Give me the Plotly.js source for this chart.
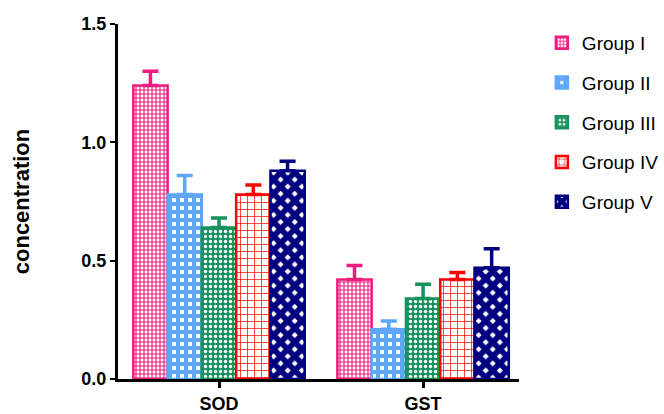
<!DOCTYPE html>
<html><head><meta charset="utf-8">
<script src="https://cdn.plot.ly/plotly-3.0.1.min.js"></script>
<style>body{margin:0;background:#fff}#chart{width:664px;height:414px}</style>
</head><body><div id="chart"></div>
<script>
const categories = ["SOD", "GST"];
const groupNames = ["Group I", "Group II", "Group III", "Group IV", "Group V"];
const groupI   = [1.24, 0.42];
const groupII  = [0.78, 0.21];
const groupIII = [0.64, 0.34];
const groupIV  = [0.78, 0.42];
const groupV   = [0.88, 0.47];
const errI   = [0.06, 0.06];
const errII  = [0.08, 0.035];
const errIII = [0.04, 0.06];
const errIV  = [0.04, 0.03];
const errV   = [0.04, 0.08];
const yTicks = [0, 0.5, 1.0, 1.5];

const values = [groupI, groupII, groupIII, groupIV, groupV];
const errs = [errI, errII, errIII, errIV, errV];
const colors = ["#EE1C7E", "#5EA6F7", "#17925E", "#FF0000", "#000080"];
const patterns = [
  {shape: "+", size: 4, solidity: 0.5, fgcolor: "#EE1C7E", bgcolor: "#ffffff"},
  {shape: "+", size: 8, solidity: 0.75, fgcolor: "#5EA6F7", bgcolor: "#ffffff"},
  {shape: ".", size: 5, solidity: 0.35, fgcolor: "#ffffff", bgcolor: "#17925E"},
  {shape: "+", size: 7, solidity: 0.2, fgcolor: "#FF0000", bgcolor: "#ffffff"},
  {shape: "x", size: 10, solidity: 0.82, fgcolor: "#000080", bgcolor: "#ffffff"}
];

const traces = groupNames.map((name, i) => ({
  type: "bar",
  name: name,
  legendgroup: "g" + i,
  x: categories,
  y: values[i],
  marker: {
    color: colors[i],
    pattern: patterns[i],
    line: {color: colors[i], width: 2.5}
  },
  error_y: {
    type: "data", symmetric: false, array: errs[i], arrayminus: [0, 0],
    color: colors[i], thickness: 3.5, width: 8
  }
}));

const font = "Arial, 'Liberation Sans', sans-serif";
const layout = {
  width: 664, height: 414,
  margin: {l: 118, r: 145, t: 24, b: 35, autoexpand: false},
  paper_bgcolor: "#fff", plot_bgcolor: "#fff",
  barmode: "group", bargap: 0.16, bargroupgap: 0,
  showlegend: true,
  legend: {x: 1.057, xanchor: "left", y: 1.0, yanchor: "top", traceorder: "grouped",
    font: {family: font, size: 19, color: "#000"}, tracegroupgap: 12, itemwidth: 30},
  xaxis: {
    range: [-0.495, 1.47], showline: true, linecolor: "#000", linewidth: 3,
    ticks: "outside", ticklen: 6, tickwidth: 3, tickcolor: "#000",
    tickfont: {family: font, size: 18, color: "#000", weight: "bold"},
    showgrid: false, zeroline: false, fixedrange: true
  },
  yaxis: {
    range: [0, 1.5], tickvals: yTicks, tickformat: ".1f",
    showline: true, linecolor: "#000", linewidth: 3,
    ticks: "outside", ticklen: 5, tickwidth: 2, tickcolor: "#000",
    tickfont: {family: font, size: 18, color: "#000", weight: "bold"},
    showgrid: false, zeroline: false, automargin: false,
    title: {text: "concentration", font: {family: font, size: 22, color: "#000", weight: "bold"}, standoff: 46}
  }
};
Plotly.newPlot("chart", traces, layout, {displayModeBar: false, staticPlot: true});
</script></body></html>
